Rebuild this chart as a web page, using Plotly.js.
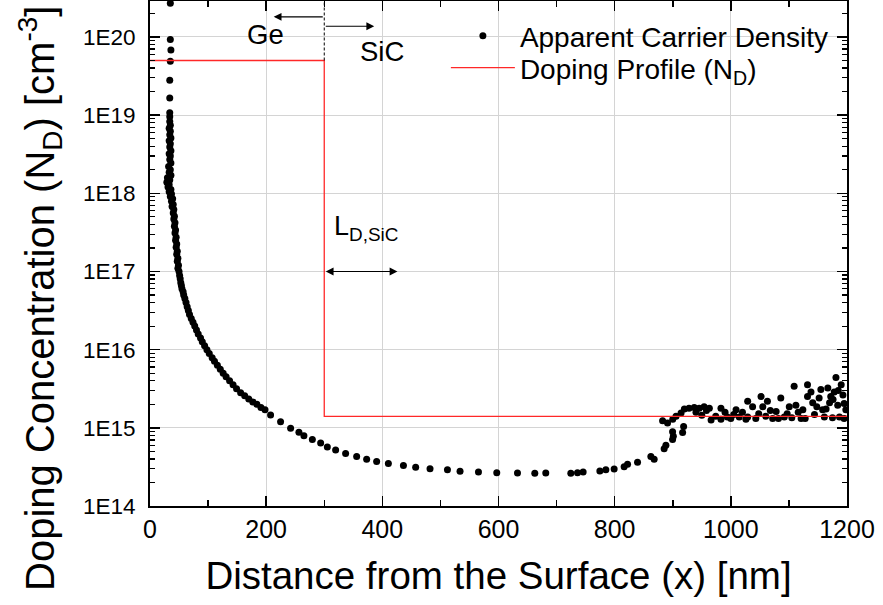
<!DOCTYPE html>
<html>
<head>
<meta charset="utf-8">
<script src="https://cdn.plot.ly/plotly-3.0.1.min.js"></script>
<style>
  html, body { margin: 0; padding: 0; background: #fff; }
  #chart { width: 883px; height: 605px; }
</style>
</head>
<body>
<div id="chart"></div>
<script>
// Apparent carrier density: distance [nm], density [cm^-3]
const distance = [
  35, 35, 36, 35, 34, 34, 34, 34,
  34, 35, 33, 35, 34, 36, 33, 35, 34, 36, 33, 35, 34, 36, 32, 35, 33, 36, 30, 34, 29, 33, 31, 36, 33,
  37, 35, 39, 37, 40, 38, 41, 40, 42, 41, 43, 42, 44, 43, 45, 44, 46, 45, 47, 46, 48, 47, 49, 48, 50,
  51, 52, 53, 54, 55, 57, 58, 60, 62, 64, 66, 68, 71, 74, 77, 80, 83, 87, 90, 94, 98,
  102, 107, 111, 116, 121, 126, 131, 137, 143, 149, 156, 163, 170, 177, 184, 191, 198,
  207.6, 224.8, 242.1, 256.4, 265.0, 279.5, 293.8, 305.3, 319.6, 336.8, 355.8, 373.0, 390.2, 410.4,
  436.3, 457.4, 482.1, 512.1, 533.8, 565.5, 597.0, 632.7, 662.5, 681.4, 724.5, 736.0, 745.7, 774.5,
  784.8, 799.1, 816.3, 822.2, 839.4, 862.3, 868.0, 885.2, 888.2, 899.7, 901, 899.7, 917, 918.7,
  882.5, 891, 900, 905.7, 914.3, 920, 928, 937, 945.5, 954, 963, 966, 974, 983, 983, 994, 1000,
  1009, 1014.5, 1026, 1029, 1029, 1037.5, 1043, 1052, 1055, 1063, 1072, 1078, 1086, 1092, 1100.6,
  1109, 1112, 1121, 1124, 1132, 1132, 1138, 1141, 1144, 1152, 1155, 1158, 1161, 1167, 1170, 1172,
  1178, 1181, 1184, 1187, 1190, 1193, 1198, 1195,
  940, 950, 958, 990, 1005, 1020, 1048, 1060, 1068, 1082, 1097, 1105, 1116, 1128, 1148, 1164, 1175,
  1195, 1185, 1176
];
const carrierDensity = [
  2.7e20, 9.3e19, 6.8e19, 4.9e19, 2.8e19, 1.66e19, 1.07e19, 9.5e18,
  8.3e18, 7.4e18, 6.8e18, 6.2e18, 5.6e18, 5.1e18, 4.7e18, 4.3e18, 3.9e18, 3.5e18, 3.2e18, 3.0e18,
  2.7e18, 2.45e18, 2.2e18, 2.0e18, 1.86e18, 1.7e18, 1.58e18, 1.48e18, 1.38e18, 1.29e18, 1.2e18, 1.12e18, 1.05e18,
  9.8e17, 9.1e17, 8.5e17, 7.9e17, 7.2e17, 6.8e17, 6.2e17, 5.6e17, 5.1e17, 4.7e17, 4.2e17, 3.8e17,
  3.4e17, 3.1e17, 2.75e17, 2.5e17, 2.24e17, 2.04e17, 1.82e17, 1.66e17, 1.48e17, 1.35e17, 1.2e17, 1.1e17, 1.0e17,
  8.9e16, 8.1e16, 7.2e16, 6.6e16, 6.0e16, 5.5e16, 5.0e16, 4.5e16, 4.0e16, 3.55e16, 3.16e16, 2.82e16,
  2.51e16, 2.24e16, 2.0e16, 1.78e16, 1.58e16, 1.41e16, 1.26e16, 1.12e16, 1.0e16,
  8.9e15, 7.9e15, 7.1e15, 6.3e15, 5.6e15, 5.0e15, 4.5e15, 4.0e15, 3.55e15, 3.16e15, 2.82e15, 2.57e15,
  2.34e15, 2.14e15, 2.0e15, 1.82e15, 1.7e15,
  1.46e15, 1.2e15, 9.9e14, 8.8e14, 7.9e14, 7.1e14, 6.4e14, 5.7e14, 5.2e14, 4.7e14, 4.3e14, 3.96e14,
  3.7e14, 3.5e14,
  3.3e14, 3.13e14, 3.0e14, 2.9e14, 2.78e14, 2.72e14, 2.67e14, 2.65e14, 2.62e14, 2.65e14, 2.62e14,
  2.67e14, 2.72e14, 2.8e14,
  2.9e14, 2.98e14, 3.18e14, 3.42e14, 3.63e14, 4.3e14, 3.96e14, 5.4e14, 6.0e14, 7.1e14, 7.8e14, 8.9e14,
  8.7e14, 1.04e15,
  1.23e15, 1.15e15, 1.29e15, 1.41e15, 1.55e15, 1.74e15, 1.78e15, 1.82e15, 1.78e15, 1.86e15, 1.78e15,
  1.26e15, 1.41e15, 1.78e15, 1.29e15, 1.38e15, 1.32e15,
  1.7e15, 1.38e15, 1.29e15, 2.19e15, 1.38e15, 1.86e15, 1.32e15, 2.51e15, 1.86e15, 2.19e15, 1.32e15,
  1.62e15, 2.4e15, 1.38e15, 1.86e15,
  3.4e15, 1.95e15, 1.32e15, 1.7e15, 3.55e15, 2.51e15, 2.88e15, 2.09e15, 1.48e15, 2.4e15, 3.1e15,
  1.7e15, 1.38e15, 3.24e15, 2.09e15, 2.51e15,
  2.88e15, 4.4e15, 1.95e15, 1.38e15, 3.55e15, 2.63e15, 1.7e15, 2.04e15,
  1.58e15, 1.45e15, 1.66e15, 1.58e15, 1.48e15, 1.58e15, 1.51e15, 1.41e15, 1.66e15, 1.32e15, 1.51e15,
  1.35e15, 1.58e15, 1.32e15, 1.86e15, 1.74e15, 1.35e15,
  1.32e15, 3.0e15, 2.3e15
];

// Doping profile (N_D): step at the Ge / SiC interface
const profileX = [0, 300, 300, 1200];
const profileN = [5e19, 5e19, 1.4e15, 1.4e15];

// Interface marker (dashed)
const interfaceX = [300, 300];
const interfaceN = [5e19, 2.9e20];

// Axis ticks
const xTicks = [0, 200, 400, 600, 800, 1000, 1200];
const yTicks = [1e14, 1e15, 1e16, 1e17, 1e18, 1e19, 1e20];
const yTickText = ['1E14', '1E15', '1E16', '1E17', '1E18', '1E19', '1E20'];

const FONT = '"Liberation Sans", Arial, Helvetica, sans-serif';

const traces = [
  {
    x: distance, y: carrierDensity, type: 'scatter', mode: 'markers',
    name: 'Apparent Carrier Density', legend: 'legend',
    marker: { color: '#000', size: 7 }
  },
  {
    x: profileX, y: profileN, type: 'scatter', mode: 'lines',
    name: 'Doping Profile (N<sub>D</sub>)', legend: 'legend2',
    line: { color: 'rgb(255,40,40)', width: 1.3 }
  },
  {
    x: interfaceX, y: interfaceN, type: 'scatter', mode: 'lines',
    showlegend: false, hoverinfo: 'skip',
    line: { color: '#000', width: 1, dash: '3px,2px' }
  }
];

const lg = v => Math.log10(v);
const arrowBase = { text: '', showarrow: true, axref: 'x', ayref: 'y', arrowcolor: '#000',
  arrowhead: 2, arrowsize: 1.3, arrowwidth: 1.2, standoff: 0, startstandoff: 0 };

const legendStyle = {
  xanchor: 'left', yanchor: 'middle',
  bgcolor: 'rgba(0,0,0,0)', borderwidth: 0,
  font: { family: FONT, size: 28, color: '#000' },
  itemwidth: 64
};

const layout = {
  width: 883, height: 605,
  margin: { l: 150, r: 36, t: 1, b: 99 },
  paper_bgcolor: '#fff', plot_bgcolor: '#fff',
  font: { family: FONT, color: '#000' },
  showlegend: true,
  legend: Object.assign({}, legendStyle, { x: 0.4245, y: 0.9307 }),
  legend2: Object.assign({}, legendStyle, { x: 0.4245, y: 0.8673 }),
  xaxis: {
    range: [0, 1200], tickmode: 'array', tickvals: xTicks,
    ticks: 'inside', ticklen: 10, tickwidth: 1.5, tickcolor: '#000',
    minor: { ticks: 'inside', ticklen: 6, tickwidth: 1.5, dtick: 100, tick0: 0, tickcolor: '#000', showgrid: false },
    showline: true, linecolor: '#000', linewidth: 2, mirror: 'allticks',
    showgrid: true, gridcolor: '#d4d4d4', gridwidth: 1,
    zeroline: false,
    tickfont: { family: FONT, size: 25 },
    title: { text: 'Distance from the Surface (x) [nm]', font: { family: FONT, size: 38.5 }, standoff: 20 }
  },
  yaxis: {
    type: 'log', range: [14, 20.46], tickmode: 'array', tickvals: yTicks, ticktext: yTickText,
    ticks: 'inside', ticklen: 10, tickwidth: 1.5, tickcolor: '#000',
    minor: { ticks: 'inside', ticklen: 5, tickwidth: 1.2, dtick: 'D1', tickcolor: '#000', showgrid: false },
    showline: true, linecolor: '#000', linewidth: 2, mirror: 'allticks',
    showgrid: true, gridcolor: '#d4d4d4', gridwidth: 1,
    zeroline: false,
    tickfont: { family: FONT, size: 22.5 },
    ticklabelstandoff: 8
  },
  annotations: [
    { xref: 'paper', yref: 'paper', x: -0.1578, y: 0.41, xanchor: 'center', yanchor: 'middle',
      textangle: -90, showarrow: false,
      text: 'Doping Concentration (N<sub>D</sub>) [cm<sup>-3</sup>]', font: { family: FONT, size: 40 } },
    { x: 198, y: lg(1.07e20), text: 'Ge', showarrow: false, font: { size: 27.5 } },
    { x: 399, y: lg(6.5e19), text: 'SiC', showarrow: false, font: { size: 27.5 } },
    Object.assign({}, arrowBase, { x: 213, y: lg(1.81e20), ax: 300, ay: lg(1.81e20) }),
    Object.assign({}, arrowBase, { x: 386, y: lg(1.37e20), ax: 300, ay: lg(1.37e20) }),
    { x: 313, y: lg(3.6e17), xanchor: 'left', yanchor: 'middle', text: 'L<sub>D,SiC</sub>', showarrow: false, font: { size: 27 } },
    Object.assign({}, arrowBase, { x: 426, y: lg(1e17), ax: 300, ay: lg(1e17), arrowside: 'end+start' })
  ]
};

Plotly.newPlot('chart', traces, layout, { staticPlot: true, displayModeBar: false });
</script>
</body>
</html>
